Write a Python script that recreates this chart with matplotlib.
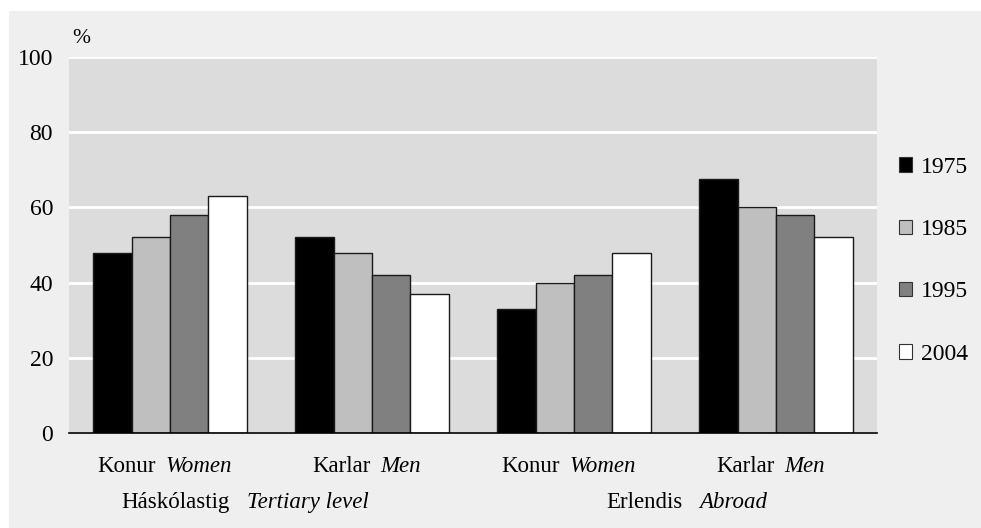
import numpy as np
import matplotlib
matplotlib.use("Agg")
import matplotlib.pyplot as plt
from matplotlib.patches import Rectangle
from matplotlib.offsetbox import TextArea, HPacker, AnnotationBbox

plt.rcParams['font.family'] = ['Liberation Serif', 'DejaVu Serif']

# data
years = ['1975', '1985', '1995', '2004']
group_native = ['Konur', 'Karlar', 'Konur', 'Karlar']
group_english = ['Women', 'Men', 'Women', 'Men']
level_native = ['Háskólastig', 'Erlendis']
level_english = ['Tertiary level', 'Abroad']
v1975 = [48, 52, 33, 67.5]
v1985 = [52, 48, 40, 60]
v1995 = [58, 42, 42, 58]
v2004 = [63, 37, 48, 52]
series = [v1975, v1985, v1995, v2004]
colors = ['#000000', '#bfbfbf', '#808080', '#ffffff']
yticks = [0, 20, 40, 60, 80, 100]

fig = plt.figure(figsize=(9.81, 5.28), dpi=100, facecolor='white')
fig.patches.append(Rectangle((9 / 981, 0), 1, (528 - 11) / 528, transform=fig.transFigure,
                             facecolor='#efefef', edgecolor='none', zorder=-10))
ax = fig.add_axes([69 / 981, 95 / 528, (877 - 69) / 981, (433 - 57) / 528])
ax.set_facecolor('#dcdcdc')

x = np.arange(len(group_native))
w = 0.19
for i, (vals, c, lab) in enumerate(zip(series, colors, years)):
    ax.bar(x + (i - 1.5) * w, vals, w, color=c, edgecolor='#1a1a1a', linewidth=1.0,
           label=lab, zorder=3)

ax.set_xlim(-0.5, 3.5)
ax.set_ylim(0, 100)
ax.set_yticks(yticks)
ax.set_yticklabels([str(t) for t in yticks], fontsize=17)
ax.set_xticks([])
ax.tick_params(axis='y', length=0, pad=11.5)
ax.yaxis.grid(True, color='white', linewidth=2, zorder=0)
ax.set_axisbelow(True)
for s in ['top', 'right', 'left']:
    ax.spines[s].set_visible(False)
ax.spines['bottom'].set_linewidth(1.2)
ax.spines['bottom'].set_zorder(4)

ax.text(0.004, 1.025, '%', transform=ax.transAxes, fontsize=15.5, ha='left', va='bottom')


def two_part(native, english, xy, size=16.5, sep=7):
    box = HPacker(children=[TextArea(native, textprops=dict(fontsize=size)),
                            TextArea(english, textprops=dict(fontsize=size, style='italic'))],
                  sep=sep, pad=0, align='baseline')
    ab = AnnotationBbox(box, xy, xycoords=('data', 'axes fraction'), frameon=False,
                        box_alignment=(0.5, 0.5), annotation_clip=False)
    ax.add_artist(ab)


for i in range(len(group_native)):
    two_part(group_native[i], group_english[i], (x[i] - 0.025, -0.09))
level_x = [0.371, 2.56]
for j in range(len(level_native)):
    two_part(level_native[j], level_english[j], (level_x[j], -0.186), sep=12)

leg = ax.legend(loc='center left', bbox_to_anchor=(1.027, 0.458), frameon=False, fontsize=17,
                handlelength=0.55, handleheight=0.55, handletextpad=0.4,
                labelspacing=1.75, borderaxespad=0, borderpad=0)
for p in leg.get_patches():
    p.set_edgecolor('#333333')
    p.set_linewidth(0.8)

fig.savefig('out.png', dpi=100, facecolor=fig.get_facecolor())
